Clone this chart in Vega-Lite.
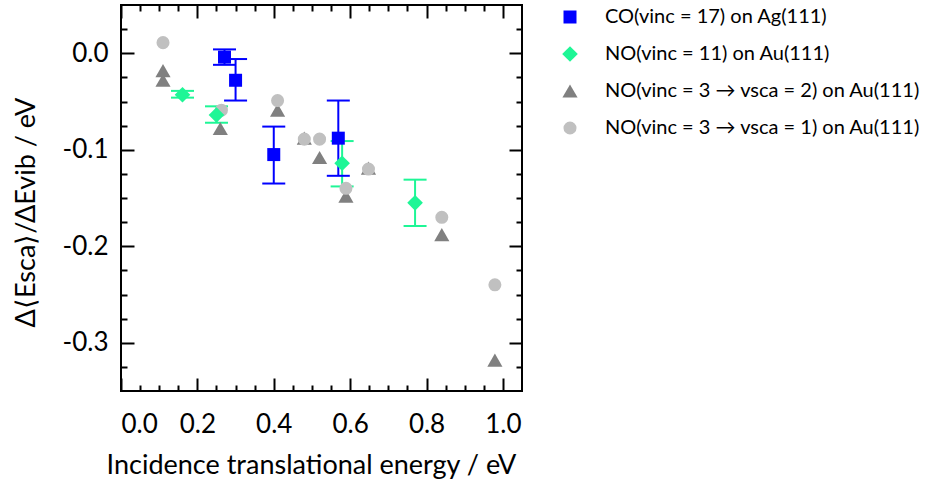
{
  "$schema": "https://vega.github.io/schema/vega-lite/v6.json",
  "width": 401,
  "height": 386,
  "autosize": {"type": "none"},
  "padding": {"left": 121, "top": 5, "right": 414, "bottom": 91},
  "background": "white",
  "config": {
    "font": "Lato",
    "view": {"stroke": "black", "strokeWidth": 2},
    "axis": {"domain": false, "grid": false, "tickColor": "black", "tickWidth": 2, "labelColor": "black", "titleColor": "black", "labelFont": "Lato", "titleFont": "Lato", "labelFontSize": 26, "titleFontSize": 27, "titleFontWeight": "normal"},
    "legend": {"padding": 0, "labelFontSize": 20, "labelFont": "Lato", "labelColor": "black", "rowPadding": 17, "labelOffset": 25, "symbolStrokeWidth": 0, "labelLimit": 400}
  },
  "data": {
    "values": [
      {"series": "NO(vinc = 3 → vsca = 2) on Au(111)", "x": 0.11, "y": -0.018},
      {"series": "NO(vinc = 3 → vsca = 2) on Au(111)", "x": 0.11, "y": -0.028},
      {"series": "NO(vinc = 3 → vsca = 2) on Au(111)", "x": 0.26, "y": -0.078},
      {"series": "NO(vinc = 3 → vsca = 2) on Au(111)", "x": 0.41, "y": -0.059},
      {"series": "NO(vinc = 3 → vsca = 2) on Au(111)", "x": 0.48, "y": -0.088},
      {"series": "NO(vinc = 3 → vsca = 2) on Au(111)", "x": 0.52, "y": -0.108},
      {"series": "NO(vinc = 3 → vsca = 2) on Au(111)", "x": 0.589, "y": -0.148},
      {"series": "NO(vinc = 3 → vsca = 2) on Au(111)", "x": 0.648, "y": -0.119},
      {"series": "NO(vinc = 3 → vsca = 2) on Au(111)", "x": 0.84, "y": -0.188},
      {"series": "NO(vinc = 3 → vsca = 2) on Au(111)", "x": 0.979, "y": -0.318},
      {"series": "NO(vinc = 3 → vsca = 1) on Au(111)", "x": 0.11, "y": 0.011},
      {"series": "NO(vinc = 3 → vsca = 1) on Au(111)", "x": 0.263, "y": -0.059},
      {"series": "NO(vinc = 3 → vsca = 1) on Au(111)", "x": 0.41, "y": -0.049},
      {"series": "NO(vinc = 3 → vsca = 1) on Au(111)", "x": 0.48, "y": -0.089},
      {"series": "NO(vinc = 3 → vsca = 1) on Au(111)", "x": 0.52, "y": -0.089},
      {"series": "NO(vinc = 3 → vsca = 1) on Au(111)", "x": 0.589, "y": -0.14},
      {"series": "NO(vinc = 3 → vsca = 1) on Au(111)", "x": 0.648, "y": -0.12},
      {"series": "NO(vinc = 3 → vsca = 1) on Au(111)", "x": 0.84, "y": -0.17},
      {"series": "NO(vinc = 3 → vsca = 1) on Au(111)", "x": 0.979, "y": -0.24},
      {"series": "NO(vinc = 11) on Au(111)", "x": 0.161, "y": -0.043, "lo": -0.046, "hi": -0.039},
      {"series": "NO(vinc = 11) on Au(111)", "x": 0.25, "y": -0.064, "lo": -0.072, "hi": -0.055},
      {"series": "NO(vinc = 11) on Au(111)", "x": 0.579, "y": -0.114, "lo": -0.138, "hi": -0.091},
      {"series": "NO(vinc = 11) on Au(111)", "x": 0.77, "y": -0.155, "lo": -0.179, "hi": -0.131},
      {"series": "CO(vinc = 17) on Ag(111)", "x": 0.271, "y": -0.004, "lo": -0.012, "hi": 0.004},
      {"series": "CO(vinc = 17) on Ag(111)", "x": 0.30, "y": -0.028, "lo": -0.049, "hi": -0.006},
      {"series": "CO(vinc = 17) on Ag(111)", "x": 0.40, "y": -0.105, "lo": -0.135, "hi": -0.076},
      {"series": "CO(vinc = 17) on Ag(111)", "x": 0.569, "y": -0.088, "lo": -0.127, "hi": -0.049}
    ]
  },
  "layer": [
    {
      "transform": [{"filter": "isValid(datum.lo)"}],
      "mark": {"type": "rule", "strokeWidth": 2},
      "encoding": {
        "x": {"field": "x", "type": "quantitative", "scale": {"domain": [0, 1.05], "nice": false, "zero": false},
              "axis": {"orient": "bottom", "values": [0, 0.2, 0.4, 0.6, 0.8, 1.0], "format": ".1f", "tickSize": -13, "labelPadding": 33, "title": "Incidence translational energy / eV", "titlePadding": 15, "titleX": 190}},
        "y": {"field": "lo", "type": "quantitative", "scale": {"domain": [-0.35, 0.05], "nice": false, "zero": false},
              "axis": {"orient": "left", "values": [0, -0.1, -0.2, -0.3], "labelExpr": "datum.value < 0 ? '-' + format(-datum.value, '.1f') : format(datum.value, '.1f')", "tickSize": -13, "labelPadding": 26, "title": "Δ⟨Esca⟩/ΔEvib / eV", "titlePadding": 22, "titleY": 207}},
        "y2": {"field": "hi"},
        "color": {"field": "series", "type": "nominal", "legend": null,
                  "scale": {"domain": ["CO(vinc = 17) on Ag(111)", "NO(vinc = 11) on Au(111)", "NO(vinc = 3 → vsca = 2) on Au(111)", "NO(vinc = 3 → vsca = 1) on Au(111)"], "range": ["#0000FF", "#1EF696", "#808080", "#C0C0C0"]}}
      }
    },
    {
      "transform": [{"filter": "isValid(datum.lo)"}],
      "mark": {"type": "tick", "orient": "horizontal", "size": 23, "thickness": 2, "opacity": 1},
      "encoding": {
        "x": {"field": "x", "type": "quantitative", "scale": {"domain": [0, 1.05], "nice": false, "zero": false},
              "axis": {"orient": "top", "values": [0, 0.2, 0.4, 0.6, 0.8, 1.0], "labels": false, "tickSize": -13, "title": null}},
        "y": {"field": "lo", "type": "quantitative", "scale": {"domain": [-0.35, 0.05], "nice": false, "zero": false},
              "axis": {"orient": "right", "values": [0, -0.1, -0.2, -0.3], "labels": false, "tickSize": -13, "title": null}},
        "color": {"field": "series", "type": "nominal", "legend": null}
      }
    },
    {
      "transform": [{"filter": "isValid(datum.hi)"}],
      "mark": {"type": "tick", "orient": "horizontal", "size": 23, "thickness": 2, "opacity": 1},
      "encoding": {
        "x": {"field": "x", "type": "quantitative", "scale": {"domain": [0, 1.05], "nice": false, "zero": false},
              "axis": {"orient": "bottom", "values": [0.05, 0.1, 0.15, 0.25, 0.3, 0.35, 0.45, 0.5, 0.55, 0.65, 0.7, 0.75, 0.85, 0.9, 0.95], "labels": false, "tickSize": -6, "title": null}},
        "y": {"field": "hi", "type": "quantitative", "scale": {"domain": [-0.35, 0.05], "nice": false, "zero": false},
              "axis": {"orient": "left", "values": [0.025, -0.025, -0.05, -0.075, -0.125, -0.15, -0.175, -0.225, -0.25, -0.275, -0.325], "labels": false, "tickSize": -6, "title": null}},
        "color": {"field": "series", "type": "nominal", "legend": null}
      }
    },
    {
      "mark": {"type": "point", "filled": true, "opacity": 1, "strokeWidth": 0},
      "encoding": {
        "x": {"field": "x", "type": "quantitative", "scale": {"domain": [0, 1.05], "nice": false, "zero": false},
              "axis": {"orient": "top", "values": [0.05, 0.1, 0.15, 0.25, 0.3, 0.35, 0.45, 0.5, 0.55, 0.65, 0.7, 0.75, 0.85, 0.9, 0.95], "labels": false, "tickSize": -6, "title": null}},
        "y": {"field": "y", "type": "quantitative", "scale": {"domain": [-0.35, 0.05], "nice": false, "zero": false},
              "axis": {"orient": "right", "values": [0.025, -0.025, -0.05, -0.075, -0.125, -0.15, -0.175, -0.225, -0.25, -0.275, -0.325], "labels": false, "tickSize": -6, "title": null}},
        "color": {"field": "series", "type": "nominal",
                  "legend": {"orient": "none", "legendX": 439, "legendY": 2, "title": null}},
        "shape": {"field": "series", "type": "nominal",
                  "legend": {"orient": "none", "legendX": 439, "legendY": 2, "title": null},
                  "scale": {"domain": ["CO(vinc = 17) on Ag(111)", "NO(vinc = 11) on Au(111)", "NO(vinc = 3 → vsca = 2) on Au(111)", "NO(vinc = 3 → vsca = 1) on Au(111)"], "range": ["square", "diamond", "triangle-up", "circle"]}},
        "size": {"field": "series", "type": "nominal",
                 "legend": {"orient": "none", "legendX": 439, "legendY": 2, "title": null},
                 "scale": {"type": "ordinal", "domain": ["CO(vinc = 17) on Ag(111)", "NO(vinc = 11) on Au(111)", "NO(vinc = 3 → vsca = 2) on Au(111)", "NO(vinc = 3 → vsca = 1) on Au(111)"], "range": [169, 245, 230, 170]}}
      }
    }
  ],
  "resolve": {"axis": {"x": "independent", "y": "independent"}, "legend": {"color": "independent", "shape": "independent", "size": "independent"}}
}
